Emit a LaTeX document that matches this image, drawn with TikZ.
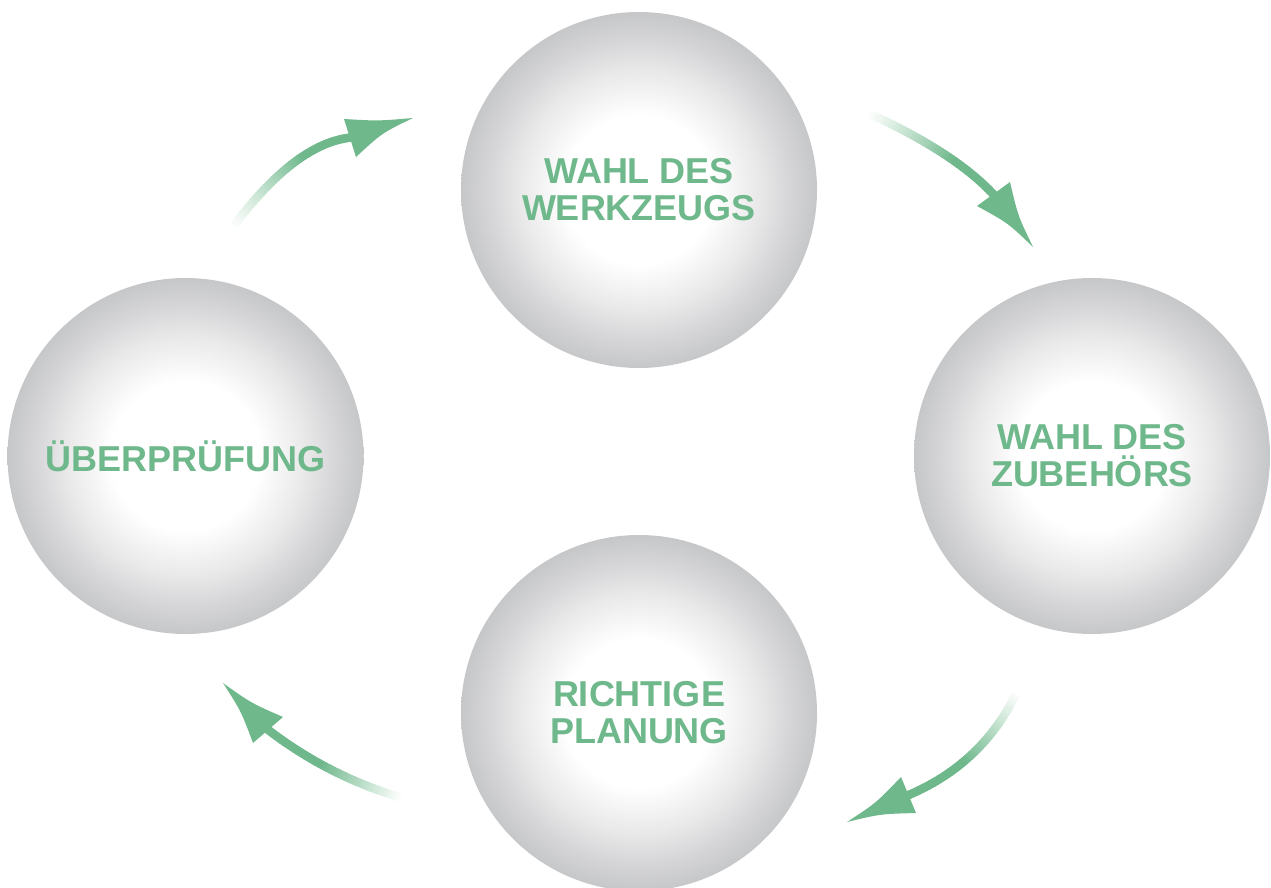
\documentclass[tikz,border=0pt]{standalone}
\usepackage{fontspec}
\setmainfont{Liberation Sans}
\usetikzlibrary{calc}
\definecolor{cgreen}{RGB}{110,184,139}
\definecolor{ballmid}{RGB}{232,232,233}
\definecolor{balldark}{RGB}{214,214,216}
\definecolor{ballgray}{RGB}{198,199,201}
\pgfdeclareradialshading{ballshade}{\pgfpoint{0bp}{0bp}}{color(0bp)=(white); color(10.5bp)=(white); color(17bp)=(ballmid); color(21bp)=(balldark); color(25bp)=(ballgray); color(50bp)=(ballgray)}
\newcommand\fadeshaft[3]{%
  \foreach \i in {0,...,47}{%
    \pgfmathsetmacro\ta{\i/48}%
    \pgfmathsetmacro\tb{(\i+1.4)/48}%
    \pgfmathtruncatemacro\pc{min(100,(\i+0.5)/48*100/0.58)}%
    \draw[shaft, cgreen!\pc!white] ($($(#1)!\ta!(#2)$)!\ta!($(#2)!\ta!(#3)$)$) -- ($($(#1)!\tb!(#2)$)!\tb!($(#2)!\tb!(#3)$)$);
  }}
\begin{document}
\begin{tikzpicture}[x=1pt,y=-1pt,
  ball/.style={circle, minimum size=356pt, inner sep=0pt, shading=ballshade,
    text=cgreen, align=center, font=\bfseries\fontsize{36}{37}\selectfont},
  shaft/.style={line width=8.5pt, line cap=butt},
  headfill/.style={fill=cgreen}]
\useasboundingbox (0,0) rectangle (1271,888);
\clip (0,0) rectangle (1271,888);

\node[ball] (top) at (639,190) {WAHL DES\\WERKZEUGS};
\node[ball] (right) at (1092,456) {WAHL DES\\ZUBEHÖRS};
\node[ball] (left) at (185.5,456) {ÜBERPRÜFUNG};
\node[ball] (bottom) at (639,713) {RICHTIGE\\PLANUNG};

% top-left arrow (left -> top)
\coordinate (tlA) at (232,228);
\coordinate (tlC) at (295,143.5);
\coordinate (tlB) at (351,137.5);
\coordinate (tlT) at (413,118);
\coordinate (tl1) at (344,119);
\coordinate (tl2) at (356,157);
\fadeshaft{tlA}{tlC}{tlB}
\fill[headfill] (tlT) .. controls (378,121) .. (tl1) -- (tl2) .. controls (382,133) .. (tlT) -- cycle;

% top-right arrow (top -> right)
\coordinate (trA) at (868,113);
\coordinate (trC) at (955.5,153);
\coordinate (trB) at (994,195);
\coordinate (trT) at (1033,247);
\coordinate (tr1) at (1010,182);
\coordinate (tr2) at (977,206);
\fadeshaft{trA}{trC}{trB}
\fill[headfill] (trT) .. controls (1018,216) .. (tr1) -- (tr2) .. controls (1008,223) .. (trT) -- cycle;

% bottom-right arrow (right -> bottom)
\coordinate (brA) at (1017,692);
\coordinate (brC) at (982.5,764);
\coordinate (brB) at (907.5,795.5);
\coordinate (brT) at (847,822);
\coordinate (br1) at (901,777);
\coordinate (br2) at (916,813);
\fadeshaft{brA}{brC}{brB}
\fill[headfill] (brT) .. controls (876,803) .. (br1) -- (br2) .. controls (880,814) .. (brT) -- cycle;

% bottom-left arrow (bottom -> left)
\coordinate (blA) at (402,798);
\coordinate (blC) at (328,776);
\coordinate (blB) at (267,729);
\coordinate (blT) at (223,683);
\coordinate (bl1) at (283,717);
\coordinate (bl2) at (253,743);
\fadeshaft{blA}{blC}{blB}
\fill[headfill] (blT) .. controls (251,703) .. (bl1) -- (bl2) .. controls (241,711) .. (blT) -- cycle;
\end{tikzpicture}
\end{document}
